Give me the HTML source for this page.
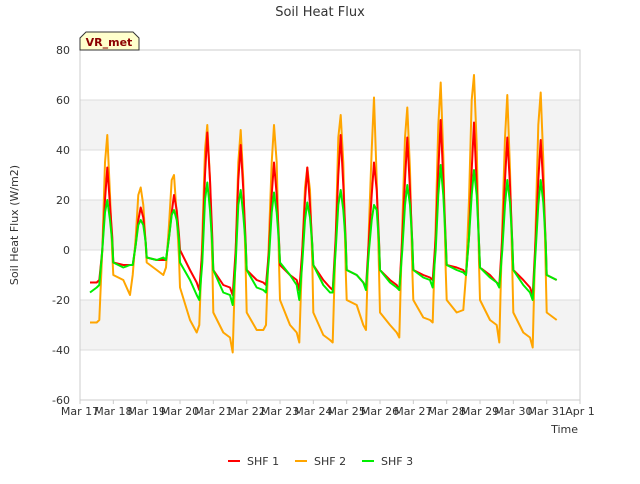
<!DOCTYPE html>
<html><head><meta charset="utf-8"><style>
body{margin:0;background:#fff;font-family:"DejaVu Sans","Liberation Sans",sans-serif}
svg text{font-family:"DejaVu Sans","Liberation Sans",sans-serif}
</style></head><body>
<svg id="c" width="640" height="480" viewBox="0 0 640 480">
<text x="320" y="16" text-anchor="middle" font-size="13" fill="#333">Soil Heat Flux</text>
<g id="bands"></g><g id="grid"></g><g id="ticks"></g><g id="series"></g>
<text x="18" y="225" transform="rotate(-90 18 225)" text-anchor="middle" font-size="11" fill="#333">Soil Heat Flux (W/m2)</text>
<text x="578" y="433" text-anchor="end" font-size="11" fill="#333">Time</text>
<g>
<path d="M80,50 L80,38 L86,32 L133,32 L139,38 L139,50 Z" fill="#ffffcc" stroke="#333"/>
<text x="109" y="46" text-anchor="middle" font-size="11" font-weight="bold" fill="#8b0000">VR_met</text></g>
<g>
<g><line x1="228" y1="461" x2="240" y2="461" stroke="#ff0000" stroke-width="2"/><text x="247" y="465" font-size="11" fill="#333">SHF 1</text></g>
<g><line x1="295" y1="461" x2="307" y2="461" stroke="#ffa500" stroke-width="2"/><text x="314" y="465" font-size="11" fill="#333">SHF 2</text></g>
<g><line x1="362" y1="461" x2="374" y2="461" stroke="#00ee00" stroke-width="2"/><text x="381" y="465" font-size="11" fill="#333">SHF 3</text></g>
</g>
</svg>
<script>
const xTickLabels=["Mar 17","Mar 18","Mar 19","Mar 20","Mar 21","Mar 22","Mar 23","Mar 24","Mar 25","Mar 26","Mar 27","Mar 28","Mar 29","Mar 30","Mar 31","Apr 1"];
const yTicks=[-60,-40,-20,0,20,40,60,80];
const dayOffsets=[0,0.3,0.5,0.58,0.67,0.75,0.82,0.9,0.97];
const shf1=[[-13,-13,-12,0,20,33,18,5],[-5,-6,-6,-6,2,12,17,13,3],[-3,-4,-4,-4,5,15,22,16,6],[0,-8,-13,-16,0,30,47,28,5],[-8,-14,-15,-18,0,28,42,24,3],[-8,-12,-13,-14,0,22,35,22,4],[-6,-10,-12,-16,0,20,33,18,2],[-6,-12,-15,-16,5,30,46,26,4],[-8,-10,-13,-15,5,22,35,24,4],[-8,-12,-14,-16,5,28,45,24,3],[-8,-10,-11,-12,5,32,52,28,4],[-6,-7,-8,-10,5,32,51,26,3],[-7,-10,-13,-14,5,28,45,26,3],[-8,-12,-15,-18,5,28,44,26,3],[-10,-12]];
const shf2=[[-29,-29,-28,0,35,46,22,-2],[-10,-12,-18,-10,5,22,25,18,2],[-5,-8,-10,-7,10,28,30,14,-3],[-15,-28,-33,-30,5,40,50,28,-5],[-25,-33,-35,-41,0,35,48,28,-8],[-25,-32,-32,-30,5,35,50,35,-5],[-20,-30,-33,-37,0,25,33,24,-5],[-25,-34,-36,-37,5,45,54,35,-8],[-20,-22,-30,-32,10,40,61,28,-8],[-25,-30,-33,-35,10,45,57,32,-8],[-20,-27,-28,-29,10,50,67,38,-8],[-20,-25,-24,-10,20,60,70,42,-5],[-20,-28,-30,-37,10,45,62,32,-8],[-25,-33,-35,-39,10,50,63,36,-8],[-25,-28]];
const shf3=[[-17,-15,-14,0,15,20,12,3],[-5,-7,-6,-6,2,10,12,10,3],[-3,-4,-3,-4,5,14,16,12,4],[-5,-12,-18,-20,-5,20,27,16,2],[-8,-17,-18,-22,-5,18,24,14,2],[-8,-15,-16,-17,-3,15,23,15,3],[-5,-10,-14,-20,-5,12,19,13,2],[-6,-14,-17,-17,0,18,24,16,3],[-8,-10,-13,-16,0,12,18,16,3],[-8,-13,-15,-16,0,18,26,18,3],[-8,-11,-12,-15,0,22,34,22,3],[-6,-8,-9,-10,5,22,32,22,3],[-7,-11,-13,-15,0,18,28,19,3],[-8,-14,-17,-20,0,18,28,19,3],[-10,-12]];
const NS="http://www.w3.org/2000/svg";
const X0=80,X1=580,Y0=400,Y1=50;
const xs=d=>X0+(X1-X0)*d/15;
const ys=v=>Y0-(Y0-Y1)*(v+60)/140;
function mk(t,a,p){const e=document.createElementNS(NS,t);for(const k in a)e.setAttribute(k,a[k]);p.appendChild(e);return e;}
const bands=document.getElementById('bands'),grid=document.getElementById('grid'),ticks=document.getElementById('ticks'),ser=document.getElementById('series');
[[40,60],[0,20],[-40,-20]].forEach(b=>{const r=mk('rect',{x:X0,y:ys(b[1]),width:X1-X0,height:ys(b[0])-ys(b[1]),fill:'#f3f3f3'},bands);

});
yTicks.forEach(v=>{const l=mk('line',{x1:X0,x2:X1,y1:ys(v),y2:ys(v),stroke:'#dcdcdc'},grid);


const t=mk('text',{x:X0-10,y:ys(v)+4,'text-anchor':'end','font-size':11,fill:'#333'},ticks);t.textContent=v;

});
mk('rect',{x:X0,y:Y1,width:X1-X0,height:Y0-Y1,fill:'none',stroke:'#cccccc'},grid);
xTickLabels.forEach((s,i)=>{const l=mk('line',{x1:xs(i),x2:xs(i),y1:Y0,y2:Y0+4,stroke:'#ccc'},ticks);


const t=mk('text',{x:xs(i),y:415,'text-anchor':'middle','font-size':11,fill:'#333'},ticks);t.textContent=s;

});
function draw(data,color,name){let pts=[];data.forEach((arr,d)=>{const st=d===0?dayOffsets.length-arr.length:0;arr.forEach((v,i)=>pts.push(xs(d+dayOffsets[st+i]).toFixed(1)+','+ys(v).toFixed(1)));});
const p=mk('polyline',{points:pts.join(' '),fill:'none',stroke:color,'stroke-width':2,'stroke-linejoin':'round'},ser);

}
draw(shf2,'#ffa500','series-shf2');draw(shf1,'#ff0000','series-shf1');draw(shf3,'#00ee00','series-shf3');
</script>
</body></html>
